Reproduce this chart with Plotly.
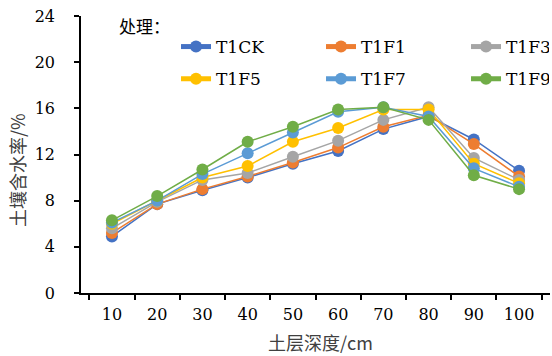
import plotly.graph_objects as go

# Soil depth (cm) and soil water content (%) per treatment
depths = ["10", "20", "30", "40", "50", "60", "70", "80", "90", "100"]
t1ck = [4.9, 7.7, 8.9, 10.0, 11.2, 12.3, 14.2, 15.3, 13.3, 10.6]
t1f1 = [5.2, 7.7, 9.0, 10.1, 11.3, 12.6, 14.4, 15.4, 12.9, 10.1]
t1f3 = [5.6, 7.9, 9.8, 10.4, 11.8, 13.2, 15.0, 16.1, 11.7, 9.8]
t1f5 = [6.0, 8.0, 10.0, 11.0, 13.1, 14.3, 15.9, 15.9, 11.2, 9.5]
t1f7 = [6.1, 8.0, 10.3, 12.1, 13.9, 15.7, 16.1, 15.3, 10.8, 9.2]
t1f9 = [6.3, 8.4, 10.7, 13.1, 14.4, 15.9, 16.1, 15.0, 10.2, 9.0]

names = ["T1CK", "T1F1", "T1F3", "T1F5", "T1F7", "T1F9"]
series = [t1ck, t1f1, t1f3, t1f5, t1f7, t1f9]
colors = ["#4472C4", "#ED7D31", "#A5A5A5", "#FFC000", "#5B9BD5", "#70AD47"]
y_ticks = [0, 4, 8, 12, 16, 20, 24]

SERIF = "DejaVu Serif"
CJK = "Noto Sans CJK SC"

fig = go.Figure()
for i, (name, vals, col) in enumerate(zip(names, series, colors)):
    fig.add_trace(go.Scatter(
        x=depths, y=vals, name=name, mode="lines+markers",
        line=dict(color=col, width=1.5),
        marker=dict(color=col, size=12, line=dict(width=0)),
        legend="legend" if i < 3 else "legend2",
        legendwidth=100 if i % 3 < 2 else 38,
    ))

legend_common = dict(
    orientation="h", xanchor="left", yanchor="top",
    font=dict(family=SERIF, size=17, color="#000000"),
    bgcolor="rgba(0,0,0,0)", itemsizing="constant",
    entrywidthmode="pixels", tracegroupgap=0,
)

fig.update_layout(
    width=552, height=356,
    margin=dict(l=81, r=2, t=16, b=63),
    plot_bgcolor="white", paper_bgcolor="white",
    legend=dict(x=0.2026, y=0.953, **legend_common),
    legend2=dict(x=0.2026, y=0.837, **legend_common),
    xaxis=dict(
        type="category", tickson="boundaries", tickangle=0,
        showline=True, linecolor="#000000", linewidth=1.5,
        ticks="outside", ticklen=5, tickwidth=1.5, tickcolor="#000000",
        showgrid=False, zeroline=False,
        tickfont=dict(family=SERIF, size=16, color="#000000"),
        ticklabelstandoff=6,
    ),
    yaxis=dict(
        range=[0, 24], tickvals=y_ticks,
        showline=True, linecolor="#000000", linewidth=1.5,
        ticks="outside", ticklen=5, tickwidth=1.5, tickcolor="#000000",
        showgrid=False, zeroline=False,
        tickfont=dict(family=SERIF, size=16, color="#000000"),
        ticklabelstandoff=16,
    ),
    annotations=[
        dict(text="处理：", xref="paper", yref="paper",
             x=(117 - 81) / 469, y=(293 - 26) / 277,
             xanchor="left", yanchor="middle", showarrow=False,
             font=dict(family=CJK, size=17, color="#000000")),
        dict(text="土层深度/cm", xref="paper", yref="paper",
             x=(320 - 81) / 469, y=(293 - 342) / 277,
             xanchor="center", yanchor="middle", showarrow=False,
             font=dict(family=CJK, size=18, color="#404040")),
        dict(text="土壤含水率/%", xref="paper", yref="paper",
             x=(17 - 81) / 469, y=(293 - 170) / 277, textangle=-90,
             xanchor="center", yanchor="middle", showarrow=False,
             font=dict(family=CJK, size=18, color="#404040")),
    ],
)

fig.write_html("out.html")
